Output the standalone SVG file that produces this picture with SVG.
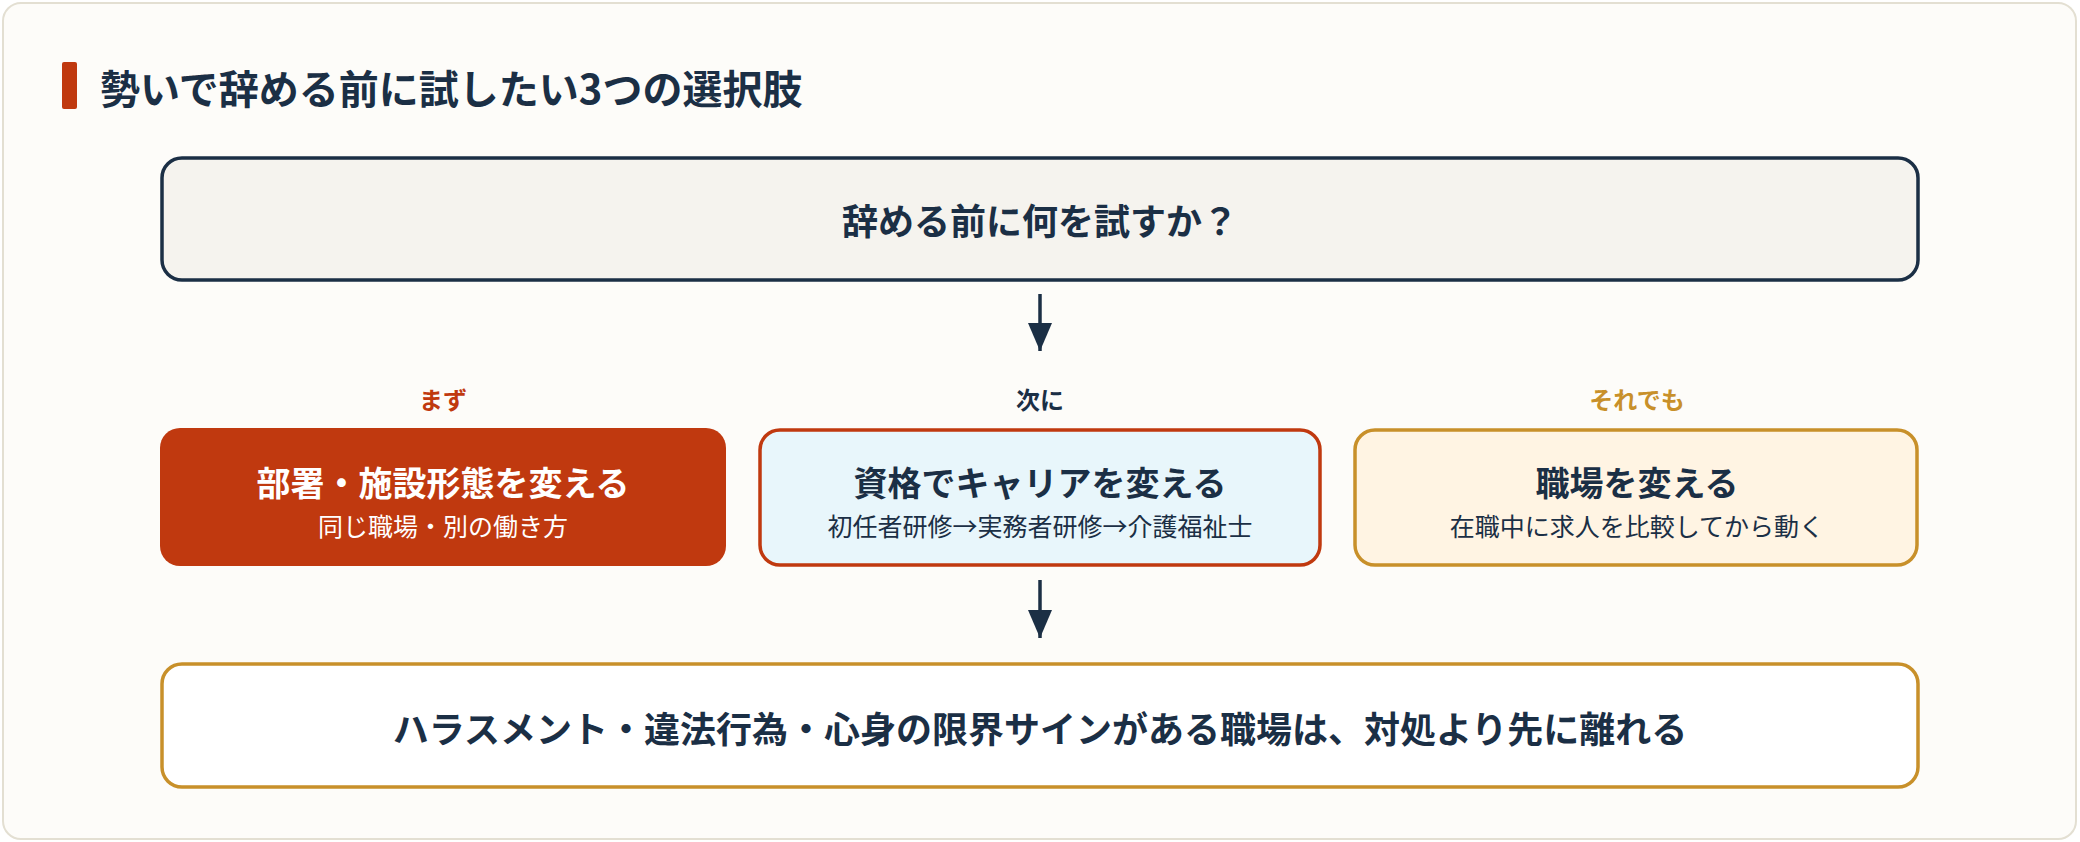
<svg xmlns="http://www.w3.org/2000/svg" width="2080" height="842" viewBox="0 0 2080 842">
<style>
text{font-family:"Noto Sans CJK JP","Noto Sans",sans-serif;text-anchor:middle;dominant-baseline:central}
.b{font-weight:700}
.navy{fill:#1b2f45}
.arrow{stroke:#1b2f45;stroke-width:3.5;fill:none}
</style>
<defs>
<marker id="ah" viewBox="0 0 10 10" refX="10" refY="5" markerWidth="7" markerHeight="7" markerUnits="userSpaceOnUse" orient="auto">
<path d="M0,0 L10,5 L0,10 z" fill="#1b2f45"/>
</marker>
<marker id="ah2" viewBox="0 0 28 24" refX="28" refY="12" markerWidth="28" markerHeight="24" markerUnits="userSpaceOnUse" orient="auto">
<path d="M0,0 L28,12 L0,24 z" fill="#1b2f45"/>
</marker>
</defs>
<rect x="3" y="3" width="2073" height="836" rx="18" fill="#fdfcf9" stroke="#e3dfd2" stroke-width="2"/>
<g id="title">
<rect x="62" y="62" width="15" height="47" rx="2" fill="#c0390f"/>
<text x="100" y="87" class="b navy" font-size="40" style="text-anchor:start">勢いで辞める前に試したい3つの選択肢</text>
</g>
<g id="node-top">
<rect x="162" y="158" width="1756" height="122" rx="20" fill="#f5f3ee" stroke="#1b2f45" stroke-width="3.5"/>
<text x="1040" y="219" class="b navy" font-size="36">辞める前に何を試すか？</text>
</g>
<g id="labels" class="b" font-size="24">
<text x="443" y="398" fill="#c0390f">まず</text>
<text x="1040" y="398" fill="#1b2f45">次に</text>
<text x="1637" y="398" fill="#c8902a">それでも</text>
</g>
<g id="node-1">
<rect x="160" y="428" width="566" height="138" rx="20" fill="#c0390f"/>
<text x="443" y="481" class="b" font-size="34" fill="#fff">部署・施設形態を変える</text>
<text x="443" y="525" font-size="25" fill="#fff">同じ職場・別の働き方</text>
</g>
<g id="node-2">
<rect x="760" y="430" width="560" height="135" rx="20" fill="#e8f6fb" stroke="#c0390f" stroke-width="3.5"/>
<text x="1040" y="481" class="b navy" font-size="34">資格でキャリアを変える</text>
<text x="1040" y="525" class="navy" font-size="25">初任者研修→実務者研修→介護福祉士</text>
</g>
<g id="node-3">
<rect x="1355" y="430" width="562" height="135" rx="20" fill="#fff4e3" stroke="#c8902a" stroke-width="3.5"/>
<text x="1637" y="481" class="b navy" font-size="34">職場を変える</text>
<text x="1637" y="525" class="navy" font-size="25">在職中に求人を比較してから動く</text>
</g>
<g id="node-bottom">
<rect x="162" y="664" width="1756" height="123" rx="20" fill="#fff" stroke="#c8902a" stroke-width="3.5"/>
<text x="1040" y="727" class="b navy" font-size="36">ハラスメント・違法行為・心身の限界サインがある職場は、対処より先に離れる</text>
</g>
<g id="connectors">
<line class="arrow" x1="1040" y1="294" x2="1040" y2="351" marker-end="url(#ah2)"/>
<line class="arrow" x1="1040" y1="580" x2="1040" y2="638" marker-end="url(#ah2)"/>
</g>
</svg>
